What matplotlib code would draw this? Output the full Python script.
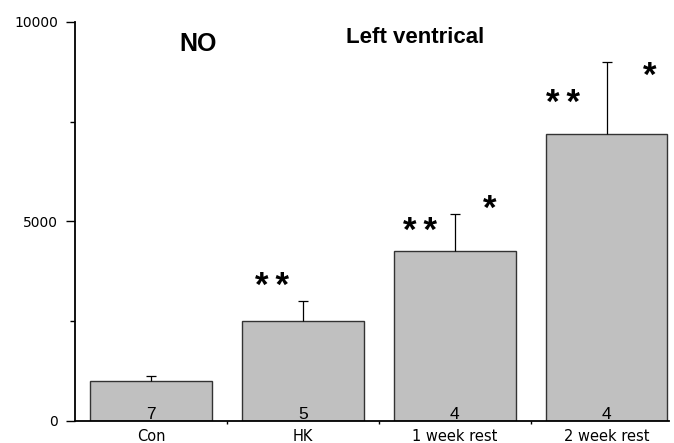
import matplotlib
matplotlib.use('agg')

import numpy as np
import matplotlib.pyplot as plt
from matplotlib.ticker import FixedLocator

groups = ['Con', 'HK', '1 week rest', '2 week rest']
means = [1000, 2500, 4250, 7200]
errs = [130, 500, 950, 1800]
n_counts = ['7', '5', '4', '4']

# significance marks: (bar index, x offset from bar centre, y value, text)
stars = [
  (1, -0.20, 3380, '*\u2009*'),
  (2, -0.23, 4760, '*\u2009*'),
  (2, 0.23, 5310, '*'),
  (3, -0.29, 7950, '*\u2009*'),
  (3, 0.28, 8650, '*'),
]

fig = plt.figure(figsize=(6.74, 4.43), dpi=100)
ax = fig.add_axes([75 / 674, 22 / 443, (669 - 75) / 674, (421 - 22) / 443])

x = np.arange(len(groups))
means = np.array(means)
errs = np.array(errs)
ax.bar(x, means, width=0.8, color='#c0c0c0', edgecolor='#333333', linewidth=1.0, zorder=2)
# upper error only, no cap on the bar top
ax.vlines(x, means, means + errs, color='black', linewidth=0.9, zorder=3)
ax.plot(x, means + errs, ls='none', marker='_', markersize=7, markeredgewidth=0.9, color='black', zorder=3)

ax.set_xlim(-0.5, 3.41)
ax.set_ylim(0, 10000)

for side in ('top', 'right'):
  ax.spines[side].set_visible(False)
ax.spines['left'].set_linewidth(1.3)
ax.spines['bottom'].set_linewidth(1.3)

ax.set_yticks([0, 5000, 10000])
ax.yaxis.set_minor_locator(FixedLocator([2500, 7500]))
ax.tick_params(axis='y', which='major', length=6.5, width=1.0, pad=5.5)
ax.tick_params(axis='y', which='minor', length=3.6, width=1.0)
for lab in ax.get_yticklabels():
  lab.set_fontfamily('DejaVu Sans')
  lab.set_fontsize(10)

ax.set_xticks(x)
ax.set_xticklabels(groups, fontfamily='DejaVu Sans', fontsize=10.5)
ax.xaxis.set_minor_locator(FixedLocator([0.5, 1.5, 2.5]))
ax.tick_params(axis='x', which='major', length=0, pad=6)
ax.tick_params(axis='x', which='minor', length=2, width=1.0)

for i, n in enumerate(n_counts):
  ax.text(i, 40, n, ha='center', va='baseline', fontsize=12.5, family='Liberation Sans', zorder=4)

for i, dx, y, s in stars:
  ax.text(i + dx, y, s, ha='center', va='center', fontsize=25, fontweight='bold',
          family=['Liberation Sans', 'DejaVu Sans'], zorder=4)

ax.text(0.31, 9450, 'NO', ha='center', va='center', fontsize=18, fontweight='bold', family='Liberation Sans')
ax.text(1.74, 9600, 'Left ventrical', ha='center', va='center', fontsize=16, fontweight='bold',
        family='Liberation Sans')

fig.savefig('out.png', dpi=100)
